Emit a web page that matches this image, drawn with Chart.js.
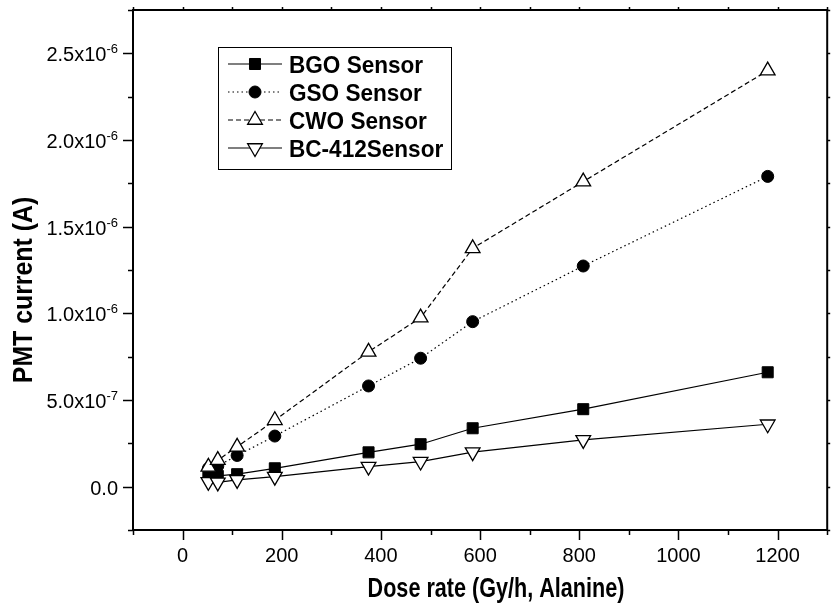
<!DOCTYPE html>
<html>
<head>
<meta charset="utf-8">
<script src="https://cdn.jsdelivr.net/npm/chart.js@4/dist/chart.umd.min.js"></script>
<style>
    html, body { margin: 0; padding: 0; background: #fff; }
    canvas { display: block; }
</style>
</head>
<body>
<canvas id="myChart" width="837" height="612"></canvas>
<script>
// values
const doseRate = [52, 71, 110, 186, 375, 480, 585, 808, 1180];
const bgo = [6.7e-8, 6.2e-8, 7.2e-8, 1.06e-7, 1.98e-7, 2.45e-7, 3.37e-7, 4.47e-7, 6.6e-7];
const gso = [1.05e-7, 1.19e-7, 1.8e-7, 2.92e-7, 5.81e-7, 7.41e-7, 9.52e-7, 1.273e-6, 1.79e-6];
const cwo = [1.14e-7, 1.53e-7, 2.3e-7, 3.83e-7, 7.78e-7, 9.75e-7, 1.375e-6, 1.76e-6, 2.4e-6];
const bc412 = [2.8e-8, 2.5e-8, 3.9e-8, 5.8e-8, 1.16e-7, 1.45e-7, 1.99e-7, 2.7e-7, 3.6e-7];

const xTicks = [0, 200, 400, 600, 800, 1000, 1200];
const yTicks = [0, 5e-7, 1e-6, 1.5e-6, 2e-6, 2.5e-6];
const yTickText = ['0.0', '5.0x10', '1.0x10', '1.5x10', '2.0x10', '2.5x10'];
const yTickExp = ['', '-7', '-6', '-6', '-6', '-6'];

const xTitle = 'Dose rate (Gy/h, Alanine)';
const yTitle = 'PMT current (A)';

function pts(ys) {
    return doseRate.map((x, i) => ({ x: x, y: ys[i] }));
}

// text squeezed a little sideways, like the original figure's font
function squeezeText(ctx, text, x, y, font, sx, align) {
    ctx.save();
    ctx.font = font;
    ctx.textBaseline = 'alphabetic';
    ctx.textAlign = 'left';
    const w = ctx.measureText(text).width * sx;
    let left = x;
    if (align === 'center') left = x - w / 2;
    if (align === 'right') left = x - w;
    ctx.translate(left, y);
    ctx.scale(sx, 1);
    ctx.fillStyle = '#000';
    ctx.fillText(text, 0, 0);
    ctx.restore();
    return w;
}

function marker(ctx, ds, x, y) {
    ctx.save();
    ctx.lineWidth = ds.pointBorderWidth;
    ctx.strokeStyle = '#000';
    ctx.fillStyle = ds.pointBackgroundColor;
    const r = ds.pointRadius;
    ctx.beginPath();
    if (ds.pointStyle === 'rect') {
        const s = Math.SQRT1_2 * r;
        ctx.rect(x - s, y - s, 2 * s, 2 * s);
    } else if (ds.pointStyle === 'circle') {
        ctx.arc(x, y, r, 0, Math.PI * 2);
    } else {
        const dir = ds.pointRotation ? -1 : 1;
        ctx.moveTo(x, y - dir * r);
        ctx.lineTo(x + r * 0.866, y + dir * r / 2);
        ctx.lineTo(x - r * 0.866, y + dir * r / 2);
        ctx.closePath();
    }
    ctx.fill();
    ctx.stroke();
    ctx.restore();
}

const framePlugin = {
    id: 'frame',
    afterDraw(chart) {
        const ctx = chart.ctx;
        const a = chart.chartArea;
        const xs = chart.scales.x;
        const ys = chart.scales.y;
        ctx.save();
        ctx.strokeStyle = '#000';
        ctx.lineWidth = 2;
        ctx.strokeRect(a.left, a.top, a.right - a.left, a.bottom - a.top);

        // tick marks
        ctx.lineWidth = 1.5;
        ctx.beginPath();
        for (let v = -100; v <= 1300; v += 100) {
            const px = Math.round(xs.getPixelForValue(v)) + 0.5;
            const len = v % 200 === 0 ? 10 : 5;
            ctx.moveTo(px, a.bottom);
            ctx.lineTo(px, a.bottom + len);
            ctx.moveTo(px, a.top);
            ctx.lineTo(px, a.top - 3);
        }
        for (let k = -1; k <= 11; k++) {
            const py = Math.round(ys.getPixelForValue(k * 2.5e-7)) + 0.5;
            const len = k % 2 === 0 ? 10 : 5;
            ctx.moveTo(a.left, py);
            ctx.lineTo(a.left - len, py);
            ctx.moveTo(a.right, py);
            ctx.lineTo(a.right + 3, py);
        }
        ctx.stroke();
        ctx.restore();

        // tick labels
        xTicks.forEach(v => {
            squeezeText(ctx, String(v), xs.getPixelForValue(v), 562, '20px "Liberation Sans", Arial', 1, 'center');
        });
        yTicks.forEach((v, i) => {
            const py = ys.getPixelForValue(v);
            let right = 118;
            if (yTickExp[i]) {
                right -= squeezeText(ctx, yTickExp[i], right, py, '13px "Liberation Sans", Arial', 1, 'right');
            }
            squeezeText(ctx, yTickText[i], right, py + 8, '20px "Liberation Sans", Arial', 1, 'right');
        });

        // axis titles
        squeezeText(ctx, xTitle, 496, 597, 'bold 27px "Liberation Sans", Arial', 0.8, 'center');
        ctx.save();
        ctx.translate(32, 290);
        ctx.rotate(-Math.PI / 2);
        squeezeText(ctx, yTitle, 0, 0, 'bold 27px "Liberation Sans", Arial', 0.92, 'center');
        ctx.restore();

        // legend box
        ctx.save();
        ctx.strokeStyle = '#000';
        ctx.lineWidth = 1;
        ctx.strokeRect(218.5, 47.5, 233, 122);
        chart.data.datasets.forEach((ds, i) => {
            const y = 64 + i * 28;
            ctx.save();
            ctx.strokeStyle = '#000';
            ctx.lineWidth = ds.borderWidth;
            ctx.setLineDash(ds.borderDash || []);
            ctx.beginPath();
            ctx.moveTo(228, y);
            ctx.lineTo(282, y);
            ctx.stroke();
            ctx.restore();
            marker(ctx, ds, 255, y);
            squeezeText(ctx, ds.label, 289, y + 8.5, 'bold 24px "Liberation Sans", Arial', 0.94, 'left');
        });
        ctx.restore();
    }
};

const ctx = document.getElementById('myChart');

new Chart(ctx, {
    type: 'line',
    data: {
        datasets: [{
            label: 'BGO Sensor',
            data: pts(bgo),
            borderColor: '#000',
            borderWidth: 1.2,
            pointStyle: 'rect',
            pointRadius: 7.8,
            pointBackgroundColor: '#000',
            pointBorderColor: '#000',
            pointBorderWidth: 1,
            order: 4
        },
        {
            label: 'GSO Sensor',
            data: pts(gso),
            borderColor: '#000',
            borderWidth: 1.2,
            borderDash: [1.5, 3],
            pointStyle: 'circle',
            pointRadius: 6,
            pointBackgroundColor: '#000',
            pointBorderColor: '#000',
            pointBorderWidth: 1,
            order: 3
        },
        {
            label: 'CWO Sensor',
            data: pts(cwo),
            borderColor: '#000',
            borderWidth: 1.2,
            borderDash: [5, 3],
            pointStyle: 'triangle',
            pointRadius: 8.5,
            pointBackgroundColor: '#fff',
            pointBorderColor: '#000',
            pointBorderWidth: 1.3,
            order: 2
        },
        {
            label: 'BC-412Sensor',
            data: pts(bc412),
            borderColor: '#000',
            borderWidth: 1.2,
            pointStyle: 'triangle',
            pointRotation: 180,
            pointRadius: 8.5,
            pointBackgroundColor: '#fff',
            pointBorderColor: '#000',
            pointBorderWidth: 1.3,
            order: 1
        }]
    },
    options: {
        responsive: false,
        animation: false,
        devicePixelRatio: 1,
        layout: {
            padding: { left: 0, right: 4, top: 10, bottom: 0 }
        },
        scales: {
            x: {
                type: 'linear',
                min: -100,
                max: 1300,
                grid: { display: false },
                border: { display: false },
                ticks: { display: false },
                afterFit: s => { s.height = 82; }
            },
            y: {
                type: 'linear',
                min: -2.5e-7,
                max: 2.75e-6,
                grid: { display: false },
                border: { display: false },
                ticks: { display: false },
                afterFit: s => { s.width = 133; }
            }
        },
        plugins: {
            legend: { display: false },
            tooltip: { enabled: false }
        }
    },
    plugins: [framePlugin]
});
</script>
</body>
</html>
